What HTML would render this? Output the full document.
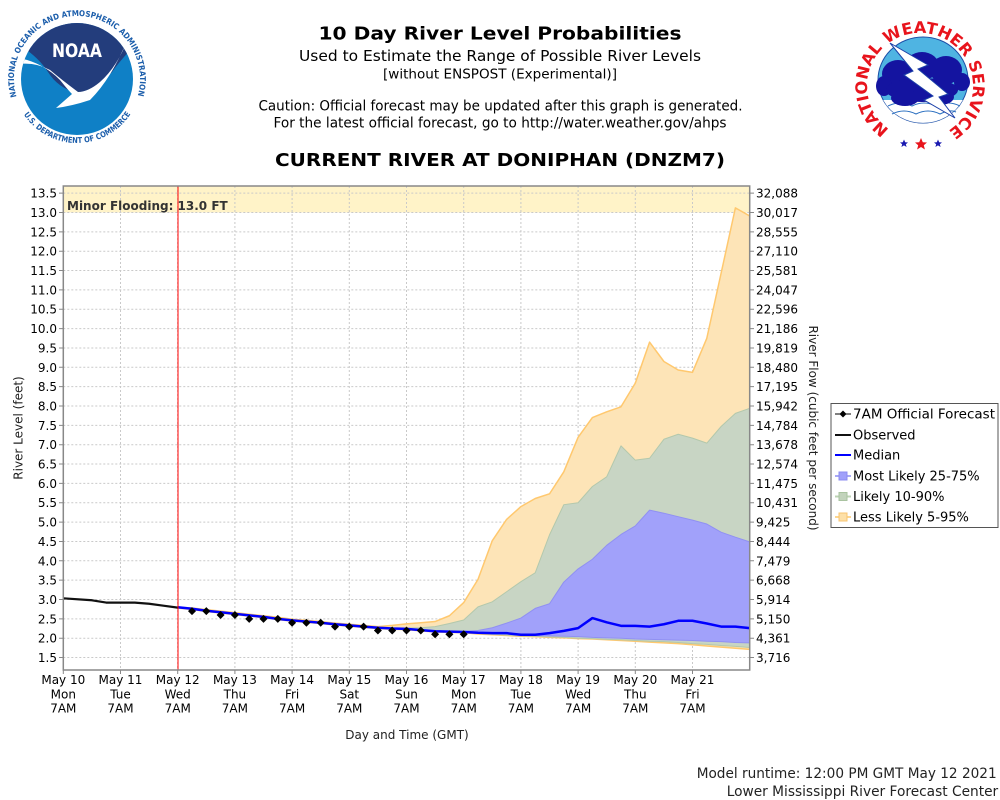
<!DOCTYPE html>
<html>
<head>
<meta charset="utf-8">
<style>
html,body{margin:0;padding:0;background:#fff;}
svg{display:block;}
text{font-family:"DejaVu Sans","Liberation Sans",sans-serif;fill:#000;}
</style>
</head>
<body>
<svg width="1000" height="800" viewBox="0 0 1000 800" xmlns="http://www.w3.org/2000/svg">
<rect x="0" y="0" width="1000" height="800" fill="#ffffff"/>

<!-- NOAA logo -->
<defs>
  <clipPath id="noaaClip"><circle cx="77" cy="79" r="56"/></clipPath>
  <clipPath id="plotClip"><rect x="63.3" y="186" width="686.4" height="484"/></clipPath>
  <path id="noaaTop" d="M 17.1,98.5 A 63 63 0 1 1 136.9,98.5"/>
  <path id="noaaBot" d="M 22.7,112.9 A 64 64 0 0 0 131.3,112.9"/>
  <path id="nwsArc" d="M 891.9,130.9 A 53 53 0 1 1 948.1,130.9"/>
</defs>
<g>
  <circle cx="77" cy="79" r="56" fill="#0f80c6"/>
  <g clip-path="url(#noaaClip)">
    <path d="M 15,20 L 140,20 L 140,40 Q 122,58 112,72 Q 96,90 77,93 Q 58,88 48,72 Q 38,56 15,42 Z" fill="#233d7c"/>
    <path d="M 18,58 Q 42,62 60,80 Q 68,90 72,94 L 56,108 Q 72,106 90,100 Q 112,78 128,38 Q 118,66 100,82 Q 88,92 78,92 Q 62,80 50,70 Q 36,62 18,64 Z" fill="#ffffff"/>
  </g>
  <text x="77" y="57" font-size="19" font-weight="bold" text-anchor="middle" fill="#ffffff" style="fill:#fff" textLength="50" lengthAdjust="spacingAndGlyphs">NOAA</text>
  <text font-size="8" font-weight="bold" style="fill:#1c5eab"><textPath href="#noaaTop" startOffset="2" textLength="232" lengthAdjust="spacingAndGlyphs">NATIONAL OCEANIC AND ATMOSPHERIC ADMINISTRATION</textPath></text>
  <text font-size="8" font-weight="bold" style="fill:#1c5eab"><textPath href="#noaaBot" startOffset="2" textLength="126" lengthAdjust="spacingAndGlyphs">U.S. DEPARTMENT OF COMMERCE</textPath></text>
</g>

<!-- NWS logo -->
<g>
  <ellipse cx="923" cy="80" rx="45" ry="43" fill="#4fb4e2" stroke="#1b4fa8" stroke-width="1"/>
  <path d="M 883.2,100 L 962.8,100 A 45 43 0 0 1 883.2,100 Z" fill="#ffffff"/>
  <path d="M 888,106 Q 900,100 912,106 Q 924,100 936,106 Q 948,100 960,106" fill="none" stroke="#2a6fc0" stroke-width="1"/>
  <path d="M 892,114 Q 904,108 916,114 Q 928,108 940,114 Q 950,109 956,112" fill="none" stroke="#2a6fc0" stroke-width="1"/>
  <g fill="#1414a0">
    <ellipse cx="898" cy="74" rx="16" ry="14"/>
    <ellipse cx="922" cy="66" rx="17" ry="14"/>
    <ellipse cx="946" cy="70" rx="16" ry="14"/>
    <ellipse cx="962" cy="82" rx="8" ry="9"/>
    <ellipse cx="884" cy="86" rx="8" ry="10"/>
    <ellipse cx="922" cy="90" rx="36" ry="12"/>
    <ellipse cx="905" cy="98" rx="14" ry="8"/>
    <ellipse cx="940" cy="97" rx="14" ry="8"/>
  </g>
  <polygon points="890,43 928,65 918,69 948,94 939,97 955,118 924,100 933,96 904,75 913,71" fill="#ffffff" stroke="#1b3fa8" stroke-width="1"/>
  <text font-size="16" font-weight="bold" style="fill:#e8141c"><textPath href="#nwsArc" startOffset="3" textLength="270" lengthAdjust="spacingAndGlyphs">NATIONAL WEATHER SERVICE</textPath></text>
  <polygon points="904,139.5 905.2,142.3 908,142.5 905.8,144.3 906.6,147 904,145.4 901.4,147 902.2,144.3 900,142.5 902.8,142.3" fill="#1a1ab0"/>
  <polygon points="921,138 922.8,142.2 927,142.5 923.8,145.2 924.9,149.5 921,147 917.1,149.5 918.2,145.2 915,142.5 919.2,142.2" fill="#e8141c"/>
  <polygon points="938,139.5 939.2,142.3 942,142.5 939.8,144.3 940.6,147 938,145.4 935.4,147 936.2,144.3 934,142.5 936.8,142.3" fill="#1a1ab0"/>
</g>

<!-- Titles -->
<text x="500" y="39.5" font-size="18" font-weight="bold" text-anchor="middle" textLength="363" lengthAdjust="spacingAndGlyphs">10 Day River Level Probabilities</text>
<text x="500" y="61" font-size="15" text-anchor="middle" textLength="402" lengthAdjust="spacingAndGlyphs">Used to Estimate the Range of Possible River Levels</text>
<text x="500" y="78.5" font-size="13" text-anchor="middle" textLength="234" lengthAdjust="spacingAndGlyphs">[without ENSPOST (Experimental)]</text>
<text x="500.5" y="110.7" font-size="14" text-anchor="middle" textLength="484" lengthAdjust="spacingAndGlyphs">Caution: Official forecast may be updated after this graph is generated.</text>
<text x="500" y="127.3" font-size="14" text-anchor="middle" textLength="453" lengthAdjust="spacingAndGlyphs">For the latest official forecast, go to http://water.weather.gov/ahps</text>
<text x="500" y="166" font-size="18" font-weight="bold" text-anchor="middle" textLength="450" lengthAdjust="spacingAndGlyphs">CURRENT RIVER AT DONIPHAN (DNZM7)</text>

<!-- Plot background & flood band -->
<rect x="63.3" y="186" width="686.4" height="484" fill="#ffffff"/>
<rect x="63.3" y="186" width="686.4" height="26.5" fill="#fff3c8"/>

<!-- Grid -->
<g stroke="#c9c9c9" stroke-width="1" stroke-dasharray="2,2" fill="none">
  <path d="M63.3,657.55H749.7M63.3,638.2H749.7M63.3,618.85H749.7M63.3,599.5H749.7M63.3,580.15H749.7M63.3,560.8H749.7M63.3,541.45H749.7M63.3,522.1H749.7M63.3,502.75H749.7M63.3,483.4H749.7M63.3,464.05H749.7M63.3,444.7H749.7M63.3,425.35H749.7M63.3,406H749.7M63.3,386.65H749.7M63.3,367.3H749.7M63.3,347.95H749.7M63.3,328.6H749.7M63.3,309.25H749.7M63.3,289.9H749.7M63.3,270.55H749.7M63.3,251.2H749.7M63.3,231.85H749.7M63.3,212.5H749.7M63.3,193.15H749.7"/>
  <path d="M120.5,186V670M177.7,186V670M234.9,186V670M292.1,186V670M349.3,186V670M406.5,186V670M463.7,186V670M520.9,186V670M578.1,186V670M635.3,186V670M692.5,186V670"/>
</g>

<text x="67" y="210" font-size="12" font-weight="bold" style="fill:#333">Minor Flooding: 13.0 FT</text>

<!-- Data -->
<g clip-path="url(#plotClip)">
<g transform="translate(63.3,715.6) scale(57.2,-38.7)">
  <polygon fill="#fde4b7" stroke="#ffc86e" stroke-width="1.5" vector-effect="non-scaling-stroke" stroke-linejoin="round" points="2,2.80 2.25,2.78 2.5,2.74 2.75,2.70 3,2.66 3.25,2.62 3.5,2.58 3.75,2.54 4,2.49 4.25,2.46 4.5,2.43 4.75,2.39 5,2.36 5.25,2.33 5.5,2.30 5.75,2.33 6,2.37 6.25,2.40 6.5,2.43 6.75,2.58 7,2.92 7.25,3.52 7.5,4.52 7.75,5.07 8,5.40 8.25,5.61 8.5,5.73 8.75,6.30 9,7.19 9.25,7.70 9.5,7.85 9.75,7.98 10,8.59 10.25,9.65 10.5,9.15 10.75,8.93 11,8.87 11.25,9.75 11.5,11.43 11.75,13.12 12,12.91 12,1.71 11.75,1.74 11.5,1.77 11.25,1.80 11,1.83 10.75,1.86 10.5,1.88 10.25,1.90 10,1.92 9.75,1.94 9.5,1.96 9.25,1.98 9,1.99 8.75,2.01 8.5,2.02 8.25,2.04 8,2.05 7.75,2.07 7.5,2.09 7.25,2.11 7,2.14 6.75,2.15 6.5,2.16 6.25,2.19 6,2.22 5.75,2.23 5.5,2.25 5.25,2.28 5,2.31 4.75,2.34 4.5,2.38 4.25,2.41 4,2.44 3.75,2.48 3.5,2.53 3.25,2.57 3,2.61 2.75,2.65 2.5,2.69 2.25,2.74 2,2.78"/>
  <polygon fill="#c8d5c4" stroke="#b3c8ac" stroke-width="1" vector-effect="non-scaling-stroke" stroke-linejoin="round" points="2,2.81 2.25,2.77 2.5,2.72 2.75,2.68 3,2.64 3.25,2.60 3.5,2.56 3.75,2.51 4,2.47 4.25,2.44 4.5,2.41 4.75,2.37 5,2.34 5.25,2.31 5.5,2.28 5.75,2.26 6,2.26 6.25,2.27 6.5,2.30 6.75,2.38 7,2.47 7.25,2.81 7.5,2.94 7.75,3.20 8,3.46 8.25,3.69 8.5,4.67 8.75,5.45 9,5.50 9.25,5.92 9.5,6.17 9.75,6.97 10,6.60 10.25,6.65 10.5,7.14 10.75,7.27 11,7.17 11.25,7.04 11.5,7.47 11.75,7.81 12,7.94 12,1.76 11.75,1.79 11.5,1.81 11.25,1.84 11,1.86 10.75,1.89 10.5,1.91 10.25,1.92 10,1.94 9.75,1.96 9.5,1.97 9.25,1.99 9,2.00 8.75,2.02 8.5,2.03 8.25,2.05 8,2.06 7.75,2.08 7.5,2.10 7.25,2.12 7,2.15 6.75,2.16 6.5,2.17 6.25,2.20 6,2.23 5.75,2.24 5.5,2.26 5.25,2.29 5,2.32 4.75,2.35 4.5,2.39 4.25,2.42 4,2.45 3.75,2.49 3.5,2.54 3.25,2.58 3,2.62 2.75,2.66 2.5,2.70 2.25,2.75 2,2.79"/>
  <polygon fill="#a1a1fa" stroke="#9090f2" stroke-width="1" vector-effect="non-scaling-stroke" stroke-linejoin="round" points="2,2.81 2.25,2.77 2.5,2.72 2.75,2.68 3,2.64 3.25,2.60 3.5,2.56 3.75,2.51 4,2.47 4.25,2.44 4.5,2.41 4.75,2.37 5,2.34 5.25,2.31 5.5,2.28 5.75,2.26 6,2.25 6.25,2.22 6.5,2.19 6.75,2.18 7,2.18 7.25,2.20 7.5,2.27 7.75,2.39 8,2.52 8.25,2.77 8.5,2.89 8.75,3.45 9,3.79 9.25,4.04 9.5,4.40 9.75,4.68 10,4.90 10.25,5.31 10.5,5.23 10.75,5.14 11,5.05 11.25,4.95 11.5,4.74 11.75,4.61 12,4.49 12,1.88 11.75,1.89 11.5,1.91 11.25,1.92 11,1.94 10.75,1.95 10.5,1.96 10.25,1.97 10,1.98 9.75,2.00 9.5,2.01 9.25,2.02 9,2.04 8.75,2.05 8.5,2.06 8.25,2.07 8,2.07 7.75,2.11 7.5,2.12 7.25,2.13 7,2.15 6.75,2.16 6.5,2.17 6.25,2.20 6,2.23 5.75,2.24 5.5,2.26 5.25,2.29 5,2.32 4.75,2.35 4.5,2.39 4.25,2.42 4,2.45 3.75,2.49 3.5,2.54 3.25,2.58 3,2.62 2.75,2.66 2.5,2.70 2.25,2.75 2,2.79"/>
  <polyline fill="none" stroke="#0000ff" stroke-width="2.5" vector-effect="non-scaling-stroke" stroke-linejoin="round" points="2,2.80 2.25,2.76 2.5,2.71 2.75,2.67 3,2.63 3.25,2.59 3.5,2.55 3.75,2.50 4,2.46 4.25,2.43 4.5,2.40 4.75,2.36 5,2.33 5.25,2.30 5.5,2.27 5.75,2.25 6,2.24 6.25,2.21 6.5,2.18 6.75,2.17 7,2.16 7.25,2.14 7.5,2.13 7.75,2.13 8,2.09 8.25,2.09 8.5,2.13 8.75,2.19 9,2.26 9.25,2.52 9.5,2.41 9.75,2.32 10,2.32 10.25,2.30 10.5,2.36 10.75,2.45 11,2.45 11.25,2.38 11.5,2.30 11.75,2.30 12,2.26"/>
  <polyline fill="none" stroke="#111111" stroke-width="2.2" vector-effect="non-scaling-stroke" stroke-linejoin="round" points="0,3.03 0.5,2.98 0.75,2.92 1,2.92 1.25,2.92 1.5,2.89 1.75,2.84 2,2.79"/>
</g>
<!-- forecast diamonds -->
<path fill="#000" d="M192,607.1l4,4-4,4-4-4zM206.3,607.1l4,4-4,4-4-4zM220.6,611l4,4-4,4-4-4zM234.9,611l4,4-4,4-4-4zM249.2,614.9l4,4-4,4-4-4zM263.5,614.9l4,4-4,4-4-4zM277.8,614.9l4,4-4,4-4-4zM292.1,618.7l4,4-4,4-4-4zM306.4,618.7l4,4-4,4-4-4zM320.7,618.7l4,4-4,4-4-4zM335,622.6l4,4-4,4-4-4zM349.3,622.6l4,4-4,4-4-4zM363.6,622.6l4,4-4,4-4-4zM377.9,626.5l4,4-4,4-4-4zM392.2,626.5l4,4-4,4-4-4zM406.5,626.5l4,4-4,4-4-4zM420.8,626.5l4,4-4,4-4-4zM435.1,630.3l4,4-4,4-4-4zM449.4,630.3l4,4-4,4-4-4zM463.7,630.3l4,4-4,4-4-4z"/>
</g>

<!-- red now line -->
<line x1="178" y1="186" x2="178" y2="670" stroke="#ff0000" stroke-width="1"/>

<!-- Axes -->
<rect x="63.3" y="186" width="686.4" height="484" fill="none" stroke="#888888" stroke-width="1.5"/>
<g stroke="#888888" stroke-width="1">
  <path d="M59,657.55H63.3M59,638.2H63.3M59,618.85H63.3M59,599.5H63.3M59,580.15H63.3M59,560.8H63.3M59,541.45H63.3M59,522.1H63.3M59,502.75H63.3M59,483.4H63.3M59,464.05H63.3M59,444.7H63.3M59,425.35H63.3M59,406H63.3M59,386.65H63.3M59,367.3H63.3M59,347.95H63.3M59,328.6H63.3M59,309.25H63.3M59,289.9H63.3M59,270.55H63.3M59,251.2H63.3M59,231.85H63.3M59,212.5H63.3M59,193.15H63.3"/>
  <path d="M749.7,657.55H754M749.7,638.2H754M749.7,618.85H754M749.7,599.5H754M749.7,580.15H754M749.7,560.8H754M749.7,541.45H754M749.7,522.1H754M749.7,502.75H754M749.7,483.4H754M749.7,464.05H754M749.7,444.7H754M749.7,425.35H754M749.7,406H754M749.7,386.65H754M749.7,367.3H754M749.7,347.95H754M749.7,328.6H754M749.7,309.25H754M749.7,289.9H754M749.7,270.55H754M749.7,251.2H754M749.7,231.85H754M749.7,212.5H754M749.7,193.15H754"/>
  <path d="M63.3,670V674M120.5,670V674M177.7,670V674M234.9,670V674M292.1,670V674M349.3,670V674M406.5,670V674M463.7,670V674M520.9,670V674M578.1,670V674M635.3,670V674M692.5,670V674"/>
</g>

<!-- Left tick labels -->
<g font-size="12" text-anchor="end" style="fill:#222">
<text x="57" y="662">1.5</text>
<text x="57" y="642.6">2.0</text>
<text x="57" y="623.3">2.5</text>
<text x="57" y="604">3.0</text>
<text x="57" y="584.6">3.5</text>
<text x="57" y="565.3">4.0</text>
<text x="57" y="545.9">4.5</text>
<text x="57" y="526.6">5.0</text>
<text x="57" y="507.2">5.5</text>
<text x="57" y="487.9">6.0</text>
<text x="57" y="468.5">6.5</text>
<text x="57" y="449.2">7.0</text>
<text x="57" y="429.8">7.5</text>
<text x="57" y="410.5">8.0</text>
<text x="57" y="391.1">8.5</text>
<text x="57" y="371.8">9.0</text>
<text x="57" y="352.4">9.5</text>
<text x="57" y="333.1">10.0</text>
<text x="57" y="313.7">10.5</text>
<text x="57" y="294.4">11.0</text>
<text x="57" y="275">11.5</text>
<text x="57" y="255.7">12.0</text>
<text x="57" y="236.3">12.5</text>
<text x="57" y="217">13.0</text>
<text x="57" y="197.6">13.5</text>
</g>

<!-- Right tick labels -->
<g font-size="12" style="fill:#222">
<text x="756" y="662">3,716</text>
<text x="756" y="642.6">4,361</text>
<text x="756" y="623.3">5,150</text>
<text x="756" y="604">5,914</text>
<text x="756" y="584.6">6,668</text>
<text x="756" y="565.3">7,479</text>
<text x="756" y="545.9">8,444</text>
<text x="756" y="526.6">9,425</text>
<text x="756" y="507.2">10,431</text>
<text x="756" y="487.9">11,475</text>
<text x="756" y="468.5">12,574</text>
<text x="756" y="449.2">13,678</text>
<text x="756" y="429.8">14,784</text>
<text x="756" y="410.5">15,942</text>
<text x="756" y="391.1">17,195</text>
<text x="756" y="371.8">18,480</text>
<text x="756" y="352.4">19,819</text>
<text x="756" y="333.1">21,186</text>
<text x="756" y="313.7">22,596</text>
<text x="756" y="294.4">24,047</text>
<text x="756" y="275">25,581</text>
<text x="756" y="255.7">27,110</text>
<text x="756" y="236.3">28,555</text>
<text x="756" y="217">30,017</text>
<text x="756" y="197.6">32,088</text>
</g>

<!-- X tick labels -->
<g font-size="12" text-anchor="middle" style="fill:#222">
<text x="63.3" y="684">May 10</text><text x="63.3" y="698.5">Mon</text><text x="63.3" y="712.7">7AM</text>
<text x="120.5" y="684">May 11</text><text x="120.5" y="698.5">Tue</text><text x="120.5" y="712.7">7AM</text>
<text x="177.7" y="684">May 12</text><text x="177.7" y="698.5">Wed</text><text x="177.7" y="712.7">7AM</text>
<text x="234.9" y="684">May 13</text><text x="234.9" y="698.5">Thu</text><text x="234.9" y="712.7">7AM</text>
<text x="292.1" y="684">May 14</text><text x="292.1" y="698.5">Fri</text><text x="292.1" y="712.7">7AM</text>
<text x="349.3" y="684">May 15</text><text x="349.3" y="698.5">Sat</text><text x="349.3" y="712.7">7AM</text>
<text x="406.5" y="684">May 16</text><text x="406.5" y="698.5">Sun</text><text x="406.5" y="712.7">7AM</text>
<text x="463.7" y="684">May 17</text><text x="463.7" y="698.5">Mon</text><text x="463.7" y="712.7">7AM</text>
<text x="520.9" y="684">May 18</text><text x="520.9" y="698.5">Tue</text><text x="520.9" y="712.7">7AM</text>
<text x="578.1" y="684">May 19</text><text x="578.1" y="698.5">Wed</text><text x="578.1" y="712.7">7AM</text>
<text x="635.3" y="684">May 20</text><text x="635.3" y="698.5">Thu</text><text x="635.3" y="712.7">7AM</text>
<text x="692.5" y="684">May 21</text><text x="692.5" y="698.5">Fri</text><text x="692.5" y="712.7">7AM</text>
</g>

<!-- Axis titles -->
<text x="407" y="739" font-size="12" text-anchor="middle" style="fill:#222">Day and Time (GMT)</text>
<text transform="translate(22.5,428) rotate(-90)" x="0" y="0" font-size="12" text-anchor="middle" style="fill:#222">River Level (feet)</text>
<text transform="translate(809,428) rotate(90)" x="0" y="0" font-size="12" text-anchor="middle" style="fill:#222">River Flow (cubic feet per second)</text>

<!-- Legend -->
<rect x="831" y="403.5" width="167" height="124" fill="#ffffff" stroke="#555555" stroke-width="1"/>
<g>
  <line x1="835" y1="414" x2="851" y2="414" stroke="#000" stroke-width="1"/>
  <path d="M843,410.5l3.5,3.5-3.5,3.5-3.5-3.5z" fill="#000"/>
  <line x1="835" y1="435" x2="851" y2="435" stroke="#111" stroke-width="2"/>
  <line x1="835" y1="455" x2="851" y2="455" stroke="#0000ff" stroke-width="2"/>
  <line x1="835" y1="476" x2="851" y2="476" stroke="#a9a9f6" stroke-width="2"/>
  <rect x="839" y="472" width="8" height="8" fill="#a0a0fa" stroke="#8c8cf0" stroke-width="1"/>
  <line x1="835" y1="496.5" x2="851" y2="496.5" stroke="#bcd3b4" stroke-width="2"/>
  <rect x="839" y="492.5" width="8" height="8" fill="#c2d3bc" stroke="#a9c3a0" stroke-width="1"/>
  <line x1="835" y1="517" x2="851" y2="517" stroke="#fcd691" stroke-width="2"/>
  <rect x="839" y="513" width="8" height="8" fill="#fde0a8" stroke="#f8c470" stroke-width="1"/>
</g>
<g font-size="13" style="fill:#111">
  <text x="853" y="418.7" textLength="142" lengthAdjust="spacingAndGlyphs">7AM Official Forecast</text>
  <text x="853" y="439.3">Observed</text>
  <text x="853" y="459.5">Median</text>
  <text x="853" y="480.5">Most Likely 25-75%</text>
  <text x="853" y="501">Likely 10-90%</text>
  <text x="853" y="521.3">Less Likely 5-95%</text>
</g>

<!-- Footer -->
<text x="696.7" y="778" font-size="14" style="fill:#222" textLength="300" lengthAdjust="spacingAndGlyphs">Model runtime: 12:00 PM GMT May 12 2021</text>
<text x="726.7" y="796" font-size="14" style="fill:#222" textLength="271.5" lengthAdjust="spacingAndGlyphs">Lower Mississippi River Forecast Center</text>
</svg>
</body>
</html>
